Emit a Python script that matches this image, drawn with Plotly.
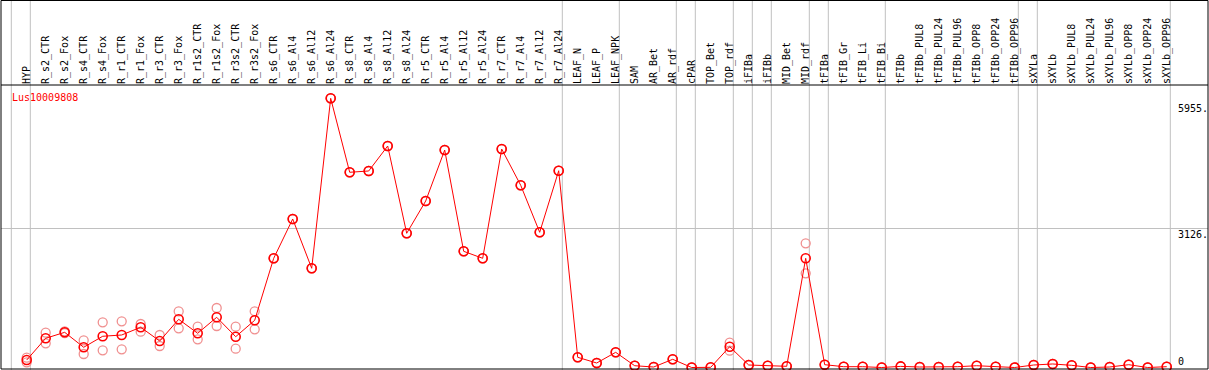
import plotly.graph_objects as go

categories = ["HYP", "R_s2_CTR", "R_s2_Fox", "R_s4_CTR", "R_s4_Fox", "R_r1_CTR", "R_r1_Fox",
              "R_r3_CTR", "R_r3_Fox", "R_r1s2_CTR", "R_r1s2_Fox", "R_r3s2_CTR", "R_r3s2_Fox",
              "R_s6_CTR", "R_s6_Al4", "R_s6_Al12", "R_s6_Al24", "R_s8_CTR", "R_s8_Al4", "R_s8_Al12",
              "R_s8_Al24", "R_r5_CTR", "R_r5_Al4", "R_r5_Al12", "R_r5_Al24", "R_r7_CTR", "R_r7_Al4",
              "R_r7_Al12", "R_r7_Al24", "LEAF_N", "LEAF_P", "LEAF_NPK", "SAM", "AR_Bet", "AR_rdf",
              "cPAR", "TOP_Bet", "TOP_rdf", "iFIBa", "iFIBb", "MID_Bet", "MID_rdf", "tFIBa",
              "tFIB_Gr", "tFIB_Li", "tFIB_Bi", "tFIBb", "tFIBb_PUL8", "tFIBb_PUL24", "tFIBb_PUL96",
              "tFIBb_OPP8", "tFIBb_OPP24", "tFIBb_OPP96", "sXYLa", "sXYLb", "sXYLb_PUL8",
              "sXYLb_PUL24", "sXYLb_PUL96", "sXYLb_OPP8", "sXYLb_OPP24", "sXYLb_OPP96"]

mean_values = [168, 656, 790, 454, 701, 730, 903, 595, 1082, 768, 1127, 692, 1060,
               2452, 3335, 2228, 6045, 4384, 4413, 4974, 3014, 3739, 4884, 2609, 2452, 4906, 4092, 3036, 4419,
               229, 101, 341, 40, 11, 184, 0,
               4, 467, 56, 40, 27, 2452, 63, 18, 18, 0, 25,
               11, 11, 18, 40, 18, 0, 56, 79, 49, 0, 11, 63, 0, 18]

rep1_values = [117, 781, 810, 611, 1015, 1037, 977, 730, 1262, 916, 1336, 916, 1262,
               2452, 3335, 2228, 6045, 4384, 4413, 4974, 3014, 3739, 4884, 2609, 2452, 4906, 4092, 3036, 4419,
               229, 101, 341, 40, 11, 184, 0,
               4, 557, 56, 40, 27, 2789, 63, 18, 18, 0, 25,
               11, 11, 18, 40, 18, 0, 56, 79, 49, 0, 11, 63, 0, 18]

rep2_values = [220, 543, 770, 303, 386, 409, 804, 483, 880, 633, 932, 422, 858,
               2452, 3335, 2228, 6045, 4384, 4413, 4974, 3014, 3739, 4884, 2609, 2452, 4906, 4092, 3036, 4419,
               229, 101, 341, 40, 11, 184, 0,
               4, 377, 56, 40, 27, 2115, 63, 18, 18, 0, 25,
               11, 11, 18, 40, 18, 0, 56, 79, 49, 0, 11, 63, 0, 18]

group_ends = [-1, 0, 28, 31, 34, 35, 37, 38, 39, 41, 42, 45, 52, 53, 60]
y_tick_values = [0, 3126, 5955]
y_tick_labels = ["0", "3126.", "5955."]
gene_name = "Lus10009808"

W, H = 1209, 370
ML, MR, MT, MB = 1, 1, 85, 1
plot_w = W - ML - MR
plot_h = H - MT - MB
top_paper = 1 + MT / plot_h
bot_paper = -MB / plot_h

FONT = "DejaVu Sans Mono"
x_idx = list(range(len(categories)))

fig = go.Figure()

for reps in (rep1_values, rep2_values):
    fig.add_trace(go.Scatter(
        x=x_idx, y=reps, mode="markers", cliponaxis=False,
        marker=dict(symbol="circle-open", size=9, color="#f09090", line=dict(width=1.3)),
        hoverinfo="skip", showlegend=False))

fig.add_trace(go.Scatter(
    x=x_idx, y=mean_values, mode="lines+markers", cliponaxis=False,
    line=dict(color="#ff0000", width=1),
    marker=dict(symbol="circle-open", size=9, color="#ff0000", line=dict(width=1.6)),
    showlegend=False))

shapes = []
for g in group_ends:
    shapes.append(dict(type="line", xref="x", yref="paper", x0=g + 0.19, x1=g + 0.19,
                       y0=bot_paper, y1=top_paper, line=dict(color="#c0c0c0", width=1), layer="below"))
# frame and divider
shapes.append(dict(type="rect", xref="paper", yref="paper", x0=0, x1=1, y0=0, y1=top_paper - 0.5 / plot_h,
                   line=dict(color="black", width=1)))
shapes.append(dict(type="line", xref="paper", yref="paper", x0=0, x1=1, y0=1, y1=1,
                   line=dict(color="black", width=1)))

annotations = [dict(text=gene_name, xref="paper", yref="paper", x=9 / plot_w, y=(H - MB - 97.7) / plot_h,
                    xanchor="left", yanchor="middle", showarrow=False,
                    font=dict(family=FONT, size=10, color="#ff0000"))]
for v, t in zip(y_tick_values, y_tick_labels):
    annotations.append(dict(text=t, xref="paper", yref="y", x=(1177 - ML) / plot_w, y=v,
                            xanchor="left", yanchor="bottom" if v == 0 else "top", showarrow=False,
                            font=dict(family=FONT, size=10, color="black"), borderpad=0))

px_per_unit = 0.04453
y0_px = 367.5
y_top = (y0_px - MT) / px_per_unit
y_bot = -((H - MB) - y0_px) / px_per_unit
x_left = (ML - 26.7) / 19.0
x_right = ((W - MR) - 26.7) / 19.0

fig.update_layout(
    width=W, height=H,
    margin=dict(l=ML, r=MR, t=MT, b=MB, pad=0, autoexpand=False),
    paper_bgcolor="white", plot_bgcolor="white",
    xaxis=dict(range=[x_left, x_right], tickmode="array", tickvals=x_idx, ticktext=categories,
               side="top", tickangle=-90, showgrid=False, zeroline=False, showline=False,
               automargin=False, ticks="", tickfont=dict(family=FONT, size=10, color="black")),
    yaxis=dict(range=[y_bot, y_top], tickmode="array", tickvals=[3126], showticklabels=False,
               automargin=False,
               showgrid=True, gridcolor="#c0c0c0", gridwidth=1, zeroline=False, showline=False, ticks=""),
    shapes=shapes, annotations=annotations,
)

fig.write_html("out.html", config={"displayModeBar": False},
               post_script="document.body.style.margin='0';document.body.style.overflow='hidden';")
